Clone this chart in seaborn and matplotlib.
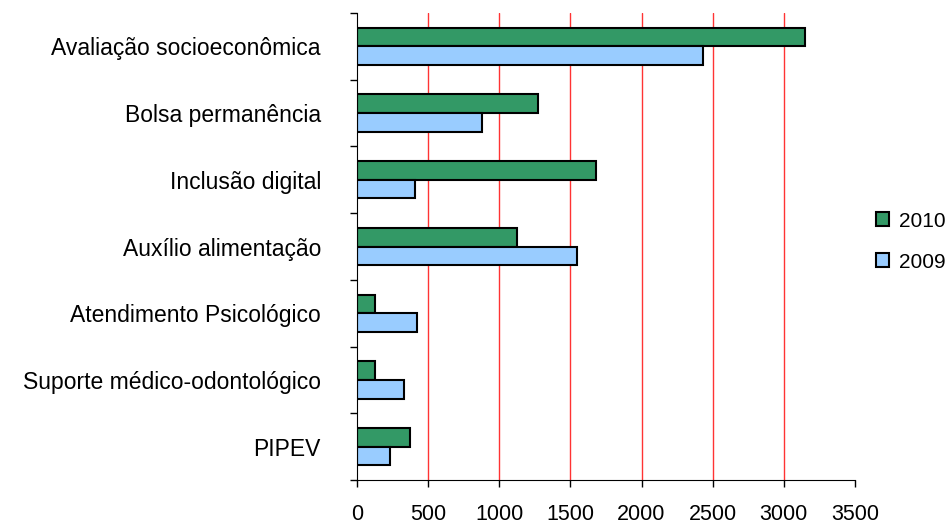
import matplotlib
matplotlib.use("Agg")
import matplotlib.pyplot as plt
import numpy as np
import pandas as pd
import seaborn as sns

# dados
categorias = ["Avaliação socioeconômica", "Bolsa permanência", "Inclusão digital",
              "Auxílio alimentação", "Atendimento Psicológico",
              "Suporte médico-odontológico", "PIPEV"]
valores_2010 = [3150, 1275, 1680, 1125, 125, 125, 370]
valores_2009 = [2430, 880, 410, 1545, 425, 328, 234]
anos = ["2010", "2009"]
cores = ["#339966", "#99CCFF"]

df = pd.DataFrame({
    "categoria": categorias * 2,
    "valor": valores_2010 + valores_2009,
    "ano": [anos[0]] * len(categorias) + [anos[1]] * len(categorias),
})

sns.set_style("white")
plt.rcParams["font.family"] = ["Liberation Sans", "DejaVu Sans"]
plt.rcParams["text.color"] = "black"
plt.rcParams["xtick.color"] = "black"
plt.rcParams["ytick.color"] = "black"

fig = plt.figure(figsize=(9.51, 5.23), dpi=100)
ax = fig.add_axes([0.3754, 0.0822, 0.899 - 0.3754, 0.9751 - 0.0822])

sns.barplot(data=df, x="valor", y="categoria", hue="ano", hue_order=anos,
            palette=cores, saturation=1, edgecolor="black", linewidth=1.5,
            width=0.56, orient="h", ax=ax)

ax.set_xlim(0, 3500)
ax.set_ylim(len(categorias) - 0.5, -0.5)
ax.set_xticks(np.arange(0, 3501, 500))
ax.set_yticks(np.arange(-0.5, len(categorias), 1), minor=True)
ax.tick_params(axis="y", which="major", length=0, pad=26, labelsize=16.5)
ax.tick_params(axis="y", which="minor", length=5, width=1, direction="out", left=True)
ax.tick_params(axis="x", which="major", length=5, width=1, direction="out",
               bottom=True, pad=12, labelsize=15.5)
ax.set_xlabel("")
ax.set_ylabel("")

for v in range(500, 3001, 500):
    ax.axvline(v, color="#ff3333", linewidth=1, zorder=0)
ax.set_axisbelow(True)

sns.despine(ax=ax, top=True, right=True)
ax.spines["left"].set_color("black")
ax.spines["bottom"].set_color("black")

ax.legend(loc="center left", bbox_to_anchor=(0.912, 0.538), bbox_transform=fig.transFigure,
          frameon=False, fontsize=15, handlelength=0.65, handleheight=0.65,
          handletextpad=0.45, labelspacing=1.05, borderaxespad=0)

fig.savefig("out.png", dpi=100)
